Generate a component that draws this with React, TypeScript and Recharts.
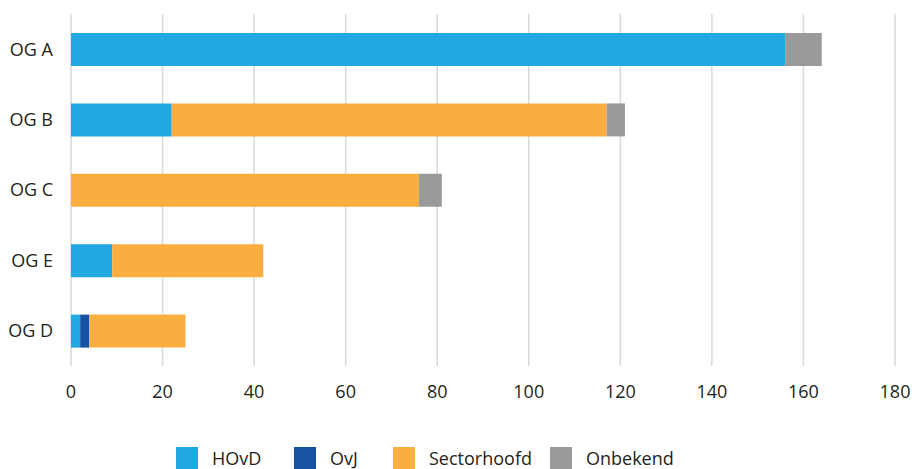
import React from 'react';
import { BarChart, Bar, XAxis, YAxis, CartesianGrid, Legend } from 'recharts';

const categories = ['OG A', 'OG B', 'OG C', 'OG E', 'OG D'];
const hovd = [156, 22, 0, 9, 2];
const ovj = [0, 0, 0, 0, 2];
const sectorhoofd = [0, 95, 76, 33, 21];
const onbekend = [8, 4, 5, 0, 0];
const xTicks = [0, 20, 40, 60, 80, 100, 120, 140, 160, 180];

const seriesNames = ['HOvD', 'OvJ', 'Sectorhoofd', 'Onbekend'];
const seriesKeys = ['hovd', 'ovj', 'sectorhoofd', 'onbekend'];
const colors = ['#23a9e1', '#1752a3', '#fbae40', '#999b9b'];
const legendLefts = [176, 294, 393, 550];

const data = categories.map((c, i) => ({
  name: c,
  hovd: hovd[i],
  ovj: ovj[i],
  sectorhoofd: sectorhoofd[i],
  onbekend: onbekend[i],
}));

const FONT = '"Open Sans", "Noto Sans", sans-serif';
const TEXT = '#231f20';

const renderLegend = () => (
  <div style={{ position: 'relative', width: 915, height: 24 }}>
    {seriesNames.map((n, i) => (
      <div
        key={n}
        style={{
          position: 'absolute',
          left: legendLefts[i],
          top: 0,
          display: 'flex',
          alignItems: 'center',
          fontFamily: FONT,
          fontSize: 18,
          color: TEXT,
          whiteSpace: 'nowrap',
        }}
      >
        <span style={{ display: 'inline-block', width: 22, height: 22, background: colors[i], marginRight: 14 }} />
        <span>{n}</span>
      </div>
    ))}
  </div>
);

export default function App() {
  return (
    <div style={{ position: 'absolute', left: 0, top: 0, width: 915, height: 469, background: '#fff' }}>
      <BarChart
        width={915}
        height={469}
        data={data}
        layout="vertical"
        margin={{ top: 14, right: 20, left: 0, bottom: 39 }}
        barSize={33}
      >
        <CartesianGrid horizontal={false} vertical={true} stroke="#d9d9d9" strokeWidth={1.5} />
        <XAxis
          type="number"
          domain={[0, 180]}
          ticks={xTicks}
          axisLine={false}
          tickLine={false}
          tickSize={0}
          tickMargin={19}
          height={40}
          tick={{ fill: TEXT, fontSize: 18, fontFamily: FONT }}
        />
        <YAxis
          type="category"
          dataKey="name"
          width={71}
          axisLine={false}
          tickLine={false}
          tickSize={0}
          tickMargin={18}
          tick={{ fill: TEXT, fontSize: 18, fontFamily: FONT }}
        />
        <Legend
          content={renderLegend}
          wrapperStyle={{ position: 'absolute', left: 0, top: 446, width: 915 }}
        />
        {seriesKeys.map((k, i) => (
          <Bar key={k} dataKey={k} name={seriesNames[i]} stackId="a" fill={colors[i]} isAnimationActive={false} />
        ))}
      </BarChart>
    </div>
  );
}
